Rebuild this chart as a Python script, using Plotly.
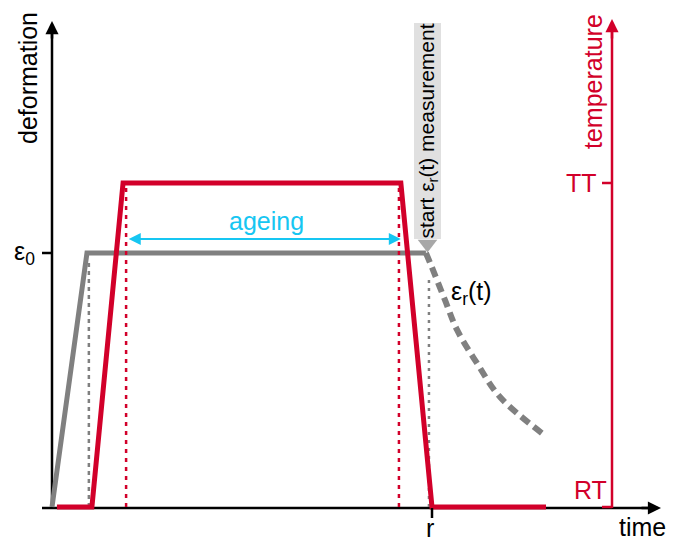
import plotly.graph_objects as go

# ---------------- data (arbitrary units) ----------------
# deformation history (gray): loading ramp + hold at eps0
deform_time = [0.0, 0.92, 9.84]
deform_value = [0.0, 1.0, 1.0]
# recovery eps_r(t) after temperature drop (dashed gray)
relax_time = [9.84, 9.95, 10.34, 10.66, 11.18, 11.79, 12.89]
relax_value = [1.0, 0.961, 0.815, 0.697, 0.567, 0.433, 0.291]
# temperature history (red): 0 = RT, 1 = TT
temp_time = [0.13, 1.05, 1.87, 9.18, 10.0, 13.0]
temp_value = [0.0, 0.0, 1.0, 1.0, 0.0, 0.0]

load_end_time = 0.97      # gray dotted marker (end of loading)
ageing_start = 1.95       # red dotted (TT reached)
ageing_end = 9.13         # red dotted (cooling starts)
measure_start = 9.92      # gray dotted (start eps_r measurement)
r_time = 10.0             # r tick on time axis

eps_ticks = [1.0]
eps_tick_labels = ["ε<sub>0</sub>"]
temp_ticks = [1.0, 0.0]
temp_tick_labels = ["TT", "RT"]

# ---------------- layout geometry ----------------
W, H = 677, 542
X0_PX, PX_PER_T = 52.0, 38.0
Y0_PX, PX_PER_EPS, PX_PER_TEMP = 507.0, 254.0, 324.0


def tx(px):  # page pixel -> time units
    return (px - X0_PX) / PX_PER_T


def ey(py):  # page pixel -> deformation units
    return (Y0_PX - py) / PX_PER_EPS


def ty(py):  # page pixel -> temperature units
    return (Y0_PX - py) / PX_PER_TEMP


RED = "#d2002a"
GRAY = "#808080"
CYAN = "#16c6f2"
FONT = "Liberation Sans, Arial, Helvetica, sans-serif"
FS = 25

fig = go.Figure()

# gray deformation (solid)
fig.add_trace(go.Scatter(x=deform_time, y=deform_value, mode="lines",
                         line=dict(color=GRAY, width=5), hoverinfo="skip"))
# gray recovery (dashed)
fig.add_trace(go.Scatter(x=relax_time, y=relax_value, mode="lines",
                         line=dict(color=GRAY, width=6, dash="10px,6px",
                                   shape="spline"), hoverinfo="skip"))
# red temperature
fig.add_trace(go.Scatter(x=temp_time, y=temp_value, mode="lines", yaxis="y2",
                         line=dict(color=RED, width=5), hoverinfo="skip"))

# dotted guide lines
for xv in [ageing_start, ageing_end]:
    fig.add_trace(go.Scatter(x=[xv, xv], y=[0, 1], mode="lines", yaxis="y2",
                             line=dict(color=RED, width=2.5, dash="4px,5px"),
                             hoverinfo="skip"))
fig.add_trace(go.Scatter(x=[load_end_time, load_end_time], y=[0, 0.97],
                         mode="lines", line=dict(color=GRAY, width=2.5, dash="4px,4px"),
                         hoverinfo="skip"))
fig.add_trace(go.Scatter(x=[measure_start, measure_start], y=[0, 0.905],
                         mode="lines", line=dict(color=GRAY, width=2.5, dash="3px,5px"),
                         hoverinfo="skip"))

# marker triangle under "start measurement" label
fig.add_trace(go.Scatter(x=[tx(427.5)], y=[ey(244)], mode="markers",
                         marker=dict(symbol="triangle-down", size=17, color="#a8a8a8"),
                         hoverinfo="skip"))

shapes = []
# left (deformation) axis
shapes.append(dict(type="line", xref="x", yref="y", x0=0, x1=0, y0=ey(508.5), y1=ey(30),
                   line=dict(color="black", width=2.5), layer="below"))
# time axis
shapes.append(dict(type="line", xref="x", yref="y", x0=tx(42), x1=tx(650), y0=ey(508), y1=ey(508),
                   line=dict(color="black", width=2.5), layer="below"))
# right (temperature) axis
shapes.append(dict(type="line", xref="x", yref="y2", x0=tx(612), x1=tx(612), y0=ty(508), y1=ty(28),
                   line=dict(color=RED, width=2.5), layer="below"))
# ticks
for v in eps_ticks:
    shapes.append(dict(type="line", xref="x", yref="y", x0=tx(42), x1=0, y0=v, y1=v,
                       line=dict(color="black", width=2.5)))
for v in temp_ticks:
    shapes.append(dict(type="line", xref="x", yref="y2", x0=tx(602), x1=tx(612), y0=v, y1=v,
                       line=dict(color=RED, width=2.5)))
shapes.append(dict(type="line", xref="x", yref="y", x0=r_time, x1=r_time, y0=ey(508), y1=ey(518),
                   line=dict(color="black", width=2.5)))

annotations = []
# axis arrowheads
annotations.append(dict(x=0, y=ey(21), ax=0, ay=ey(40), xref="x", yref="y", axref="x", ayref="y",
                        text="", showarrow=True, arrowhead=2, arrowsize=1.05, arrowwidth=2.5,
                        arrowcolor="black"))
annotations.append(dict(x=tx(661), y=ey(508), ax=tx(640), ay=ey(508), xref="x", yref="y",
                        axref="x", ayref="y", text="", showarrow=True, arrowhead=2,
                        arrowsize=1.05, arrowwidth=2.5, arrowcolor="black"))
annotations.append(dict(x=tx(612), y=ty(19), ax=tx(612), ay=ty(40), xref="x", yref="y2",
                        axref="x", ayref="y2", text="", showarrow=True, arrowhead=2,
                        arrowsize=1.05, arrowwidth=2.5, arrowcolor=RED))
# ageing double arrow
annotations.append(dict(x=ageing_end + 0.05, y=ey(239), ax=ageing_start + 0.03, ay=ey(239),
                        xref="x", yref="y", axref="x", ayref="y", text="", showarrow=True,
                        arrowhead=2, startarrowhead=2, arrowside="end+start",
                        arrowsize=1.2, startarrowsize=1.2, arrowwidth=2, arrowcolor=CYAN))

big = dict(family=FONT, size=FS, color="black")
redf = dict(family=FONT, size=FS, color=RED)
annotations += [
    dict(x=tx(28), y=ey(78), xref="x", yref="y", text="deformation", textangle=-90,
         showarrow=False, font=big),
    dict(x=tx(593), y=ey(82), xref="x", yref="y", text="temperature", textangle=-90,
         showarrow=False, font=redf),
    dict(x=tx(37), y=eps_ticks[0], xref="x", yref="y", text=eps_tick_labels[0],
         xanchor="right", showarrow=False, font=big),
    dict(x=tx(599), y=temp_ticks[0], xref="x", yref="y2", text=temp_tick_labels[0],
         xanchor="right", showarrow=False, font=redf),
    dict(x=tx(609), y=ty(490), xref="x", yref="y2", text=temp_tick_labels[1],
         xanchor="right", showarrow=False, font=redf),
    dict(x=tx(430), y=ey(528), xref="x", yref="y", text="r", showarrow=False, font=big),
    dict(x=tx(642), y=ey(527), xref="x", yref="y", text="time", showarrow=False, font=big),
    dict(x=tx(449), y=ey(293), xref="x", yref="y", text="ε<sub>r</sub>(t)", xanchor="left",
         showarrow=False, font=big),
    dict(x=tx(266), y=ey(221), xref="x", yref="y", text="ageing", showarrow=False,
         font=dict(family=FONT, size=FS, color=CYAN)),
    dict(x=tx(427.5), y=ey(131), xref="x", yref="y", text="start ε<sub>r</sub>(t) measurement",
         textangle=-90, showarrow=False, bgcolor="#e0e0e0", borderpad=0,
         font=dict(family=FONT, size=21, color="black")),
]

fig.update_layout(
    width=W, height=H,
    margin=dict(l=0, r=0, t=0, b=0),
    paper_bgcolor="white", plot_bgcolor="white",
    showlegend=False,
    xaxis=dict(range=[tx(0), tx(W)], visible=False, fixedrange=True),
    yaxis=dict(range=[ey(H), ey(0)], visible=False, fixedrange=True),
    yaxis2=dict(range=[ty(H), ty(0)], visible=False, overlaying="y", fixedrange=True),
    shapes=shapes,
    annotations=annotations,
)

fig.write_html(
    "out.html",
    config={"displayModeBar": False},
    post_script="document.body.style.margin='0';document.documentElement.style.overflow='hidden';",
)
